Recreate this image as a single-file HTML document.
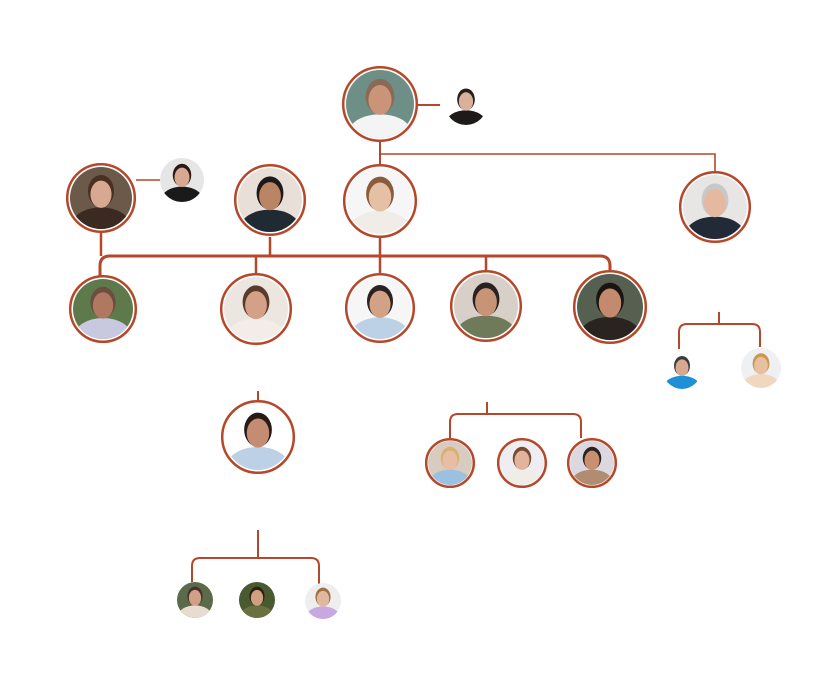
<!DOCTYPE html>
<html><head><meta charset="utf-8"><style>
html,body{margin:0;padding:0;background:#fff;}
svg{display:block;}
</style></head><body>
<svg id="s" width="828" height="686" viewBox="0 0 828 686" xmlns="http://www.w3.org/2000/svg">
<rect width="828" height="686" fill="#fff"/>
<g fill="none" stroke="#b5472a" stroke-width="2">
<path d="M380 141 V170"/>
<path d="M380 154 H715 V172" stroke-width="1.6"/>
<path d="M414 105 H440"/>
<path d="M136 180 H160" stroke-width="1.6"/>
<path d="M101 233 V256 M270 237 V256 M380 238 V256" stroke-width="2.5"/>
<path d="M100 276 V266 Q100 256 110 256 H600 Q610 256 610 266 V272" stroke-width="3"/>
<path d="M256 256 V274 M380 256 V274 M486 256 V270" stroke-width="2.5"/>
<path d="M719 312 V324 M679 349 V332 Q679 324 687 324 H752 Q760 324 760 332 V347"/>
<path d="M487 402 V414 M450 439 V422 Q450 414 458 414 H573 Q581 414 581 422 V438"/>
<path d="M258 391 V400"/>
<path d="M258 530 V558 M192 582 V566 Q192 558 200 558 H311 Q319 558 319 566 V584"/>
</g>
<g id="nodes"></g>
</svg>
<script>
var N=[
[380,104,38,34,'#6e8f86','#c99478','#f4f4f4','#8a6a55'],
[101,198,35,31,'#6b5a4a','#d9a890','#3a2a22','#4a3020'],
[270,200,36,32,'#e8e0d8','#b98565','#1f2a33','#1f1a18'],
[380,201,37,33,'#f6f6f6','#e6c0a5','#f0ece8','#8a5a3a'],
[715,207,36,32,'#e8e6e4','#e5b8a0','#222a38','#c8c8c8'],
[103,309,34,30,'#5f7a4a','#b07860','#c8c8e0','#6b4e3e'],
[256,309,36,32,'#ece6e0','#d4a088','#f2ede8','#5a3a28'],
[380,308,35,31,'#f6f6f6','#d3a286','#bcd0e6','#2a2220'],
[486,306,36,32,'#d8d0c8','#c89478','#6f7a5a','#2a2220'],
[610,307,37,33,'#556050','#c48a6e','#2a2420','#1a1412'],
[258,437,37,33,'#ffffff','#c48c72','#bcd0e6','#2a1a16'],
[450,463,25,22,'#d8ccc0','#e7bea4','#9cc0e0','#d8b070'],
[522,463,25,22,'#eeeef2','#e2b49c','#f0ece8','#7a4a30'],
[592,463,25,22,'#dcd8e0','#c89070','#b08c70','#2a2220'],
];
var P=[
[466,104,21,'#ffffff','#d8b09c','#1e1a1a','#2a1e1a'],
[182,180,22,'#e6e6e6','#d8a890','#1a1a1a','#2a1a16'],
[682,370,19,'#ffffff','#d8a890','#1e90d8','#3a3a3a'],
[761,368,20,'#eef0f4','#e8c0a0','#f0d8c0','#c89850'],
[195,600,18,'#5a6a4a','#d0a088','#e8dcd0','#4a3028'],
[257,600,18,'#4a5a30','#d0a080','#6a7040','#2a2018'],
[323,601,18,'#eeeeee','#e0b8a0','#c8a8e0','#a07040'],
];
var g=document.getElementById('nodes'),h='',id=0;
function av(cx,cy,r,bg,sk,bd,hr){
  id++;var c='c'+id;
  var s='<clipPath id="'+c+'"><circle cx="'+cx+'" cy="'+cy+'" r="'+r+'"/></clipPath><g clip-path="url(#'+c+')">';
  s+='<rect x="'+(cx-r)+'" y="'+(cy-r)+'" width="'+2*r+'" height="'+2*r+'" fill="'+bg+'"/>';
  s+='<ellipse cx="'+cx+'" cy="'+(cy+r*0.9)+'" rx="'+r*0.95+'" ry="'+r*0.6+'" fill="'+bd+'"/>';
  s+='<ellipse cx="'+cx+'" cy="'+(cy-r*0.22)+'" rx="'+r*0.42+'" ry="'+r*0.52+'" fill="'+hr+'"/>';
  s+='<ellipse cx="'+cx+'" cy="'+(cy-r*0.12)+'" rx="'+r*0.34+'" ry="'+r*0.44+'" fill="'+sk+'"/>';
  return s+'</g>';
}
N.forEach(function(n){
  h+='<circle cx="'+n[0]+'" cy="'+n[1]+'" r="'+(n[2]-1.2)+'" fill="#fff" stroke="#b5472a" stroke-width="2.5"/>';
  h+=av(n[0],n[1],n[3],n[4],n[5],n[6],n[7]);
});
P.forEach(function(n){h+=av(n[0],n[1],n[2],n[3],n[4],n[5],n[6]);});
g.innerHTML=h;
</script>
</body></html>
